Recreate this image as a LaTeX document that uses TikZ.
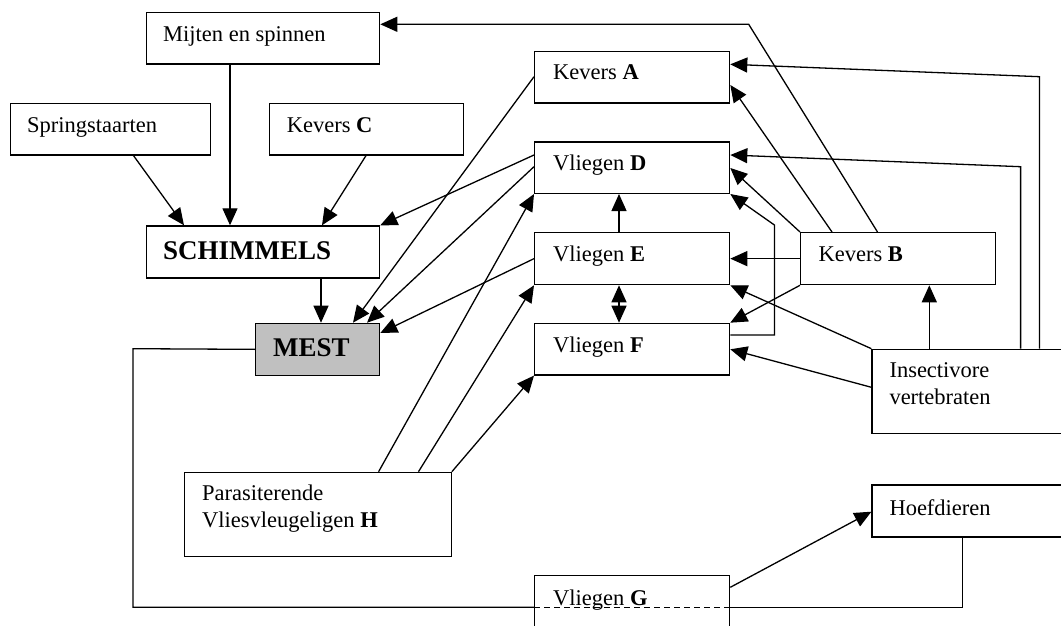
\documentclass[tikz,border=0pt]{standalone}
\usepackage{fontspec}
\setmainfont{Liberation Serif}
\usetikzlibrary{arrows.meta}
\begin{document}
\begin{tikzpicture}[x=1pt,y=-1pt,
  box/.style={draw,line width=1.3pt,rectangle,anchor=north west,inner sep=0pt,fill=white},
  txt/.style={anchor=base west,inner sep=0pt,font=\fontsize{22.5}{27}\selectfont},
  big/.style={anchor=base west,inner sep=0pt,font=\fontsize{27}{32}\selectfont\bfseries},
  con/.style={line width=1.3pt},
  arr/.style={con,-{Triangle[length=17pt,width=15pt]}},
  dbl/.style={con,{Triangle[length=17pt,width=15pt]}-{Triangle[length=17pt,width=15pt]}}]
\useasboundingbox (0,0) rectangle (1061,626);
\fill[white] (0,0) rectangle (1061,626);
\clip (0,0) rectangle (1061,626);
% boxes
\node[box,minimum width=233pt,minimum height=51.6pt] (mijten) at (146,11.7) {};
\node[box,minimum width=200.5pt,minimum height=51.6pt] (spring) at (9.5,102.7) {};
\node[box,minimum width=194pt,minimum height=51.6pt] (kevc) at (269,102.7) {};
\node[box,minimum width=233pt,minimum height=52pt] (schim) at (146,225.3) {};
\node[box,minimum width=124pt,minimum height=52pt,fill={rgb,255:red,192;green,192;blue,192}] (mest) at (255,322.7) {};
\node[box,minimum width=266.6pt,minimum height=84.3pt] (para) at (184,471.7) {};
\node[box,minimum width=195pt,minimum height=51.6pt] (keva) at (534,50.7) {};
\node[box,minimum width=195pt,minimum height=51.4pt] (vd) at (534,141.3) {};
\node[box,minimum width=195pt,minimum height=52pt] (ve) at (534,232) {};
\node[box,minimum width=195pt,minimum height=51.6pt] (vf) at (534,322.7) {};
\node[box,minimum width=195pt,minimum height=52pt] (kevb) at (800,232) {};
\node[box,minimum width=220pt,minimum height=84pt] (insect) at (871.4,348.7) {};
\node[box,minimum width=220pt,minimum height=52pt] (hoef) at (871.4,484.3) {};
\node[box,minimum width=195pt,minimum height=80pt] (vg) at (534,575) {};
% texts
\node[txt] (t-mijten) at (163,41.7) {Mijten en spinnen};
\node[txt] (t-spring) at (27,132.7) {Springstaarten};
\node[txt] (t-kevc) at (286.7,132.7) {Kevers \textbf{C}};
\node[big] (t-schim) at (163,259.3) {SCHIMMELS};
\node[big] (t-mest) at (273,356.7) {MEST};
\node[txt] (t-para1) at (202,500) {Parasiterende};
\node[txt] (t-para2) at (202,527.7) {Vliesvleugeligen \textbf{H}};
\node[txt] (t-keva) at (553,80) {Kevers \textbf{A}};
\node[txt] (t-vd) at (553,170.8) {Vliegen \textbf{D}};
\node[txt] (t-ve) at (553,261.6) {Vliegen \textbf{E}};
\node[txt] (t-vf) at (553,352.3) {Vliegen \textbf{F}};
\node[txt] (t-kevb) at (818.4,261.7) {Kevers \textbf{B}};
\node[txt] (t-ins1) at (889.3,377.7) {Insectivore};
\node[txt] (t-ins2) at (889.3,404.3) {vertebraten};
\node[txt] (t-hoef) at (889.3,515) {Hoefdieren};
\node[txt] (t-vg) at (553,605.7) {Vliegen \textbf{G}};
% connectors to SCHIMMELS and MEST
\draw[arr] (230,0 |- mijten.south) -- (230,0 |- schim.north);
\draw[arr] (133.5,0 |- spring.south) -- (184,0 |- schim.north);
\draw[arr] (366,0 |- kevc.south) -- (322,0 |- schim.north);
\draw[arr] (321,0 |- schim.south) -- (321,0 |- mest.north);
\draw[arr] (vd.west |- 0,155) -- (schim.north east);
\draw[arr] (keva.west |- 0,76.7) -- (353,0 |- mest.north);
\draw[arr] (vd.west |- 0,166.7) -- (367,0 |- mest.north);
\draw[arr] (ve.west) -- (mest.east |- 0,333);
% parasites
\draw[arr] (378.6,0 |- para.north) -- (vd.south west);
\draw[arr] (418.5,0 |- para.north) -- (ve.south west);
\draw[arr] (para.north east) -- (vf.south west);
% flies
\draw[arr] (619,0 |- ve.north) -- (619,0 |- vd.south);
\draw[dbl] (619,0 |- ve.south) -- (619,0 |- vf.north);
\coordinate (c-mij) at (748.7,24.3);
\draw[arr] (877.5,0 |- kevb.north) -- (c-mij) -- (mijten.east |- c-mij);
\draw[arr] (832,0 |- kevb.north) -- (keva.east |- 0,85);
\coordinate (c-ka) at (1039.5,76.7);
\draw[arr] (c-ka |- insect.north) -- (c-ka) -- (keva.east |- 0,64.3);
\coordinate (c-vd) at (1020.6,166.7);
\draw[arr] (c-vd |- insect.north) -- (c-vd) -- (vd.east |- 0,155);
\draw[arr] (kevb.north west) -- (vd.east |- 0,168);
\coordinate (c-f1) at (774.4,335);
\coordinate (c-f2) at (774.4,225);
\draw[arr] (vf.east |- c-f1) -- (c-f1) -- (c-f2) -- (vd.south east);
\draw[arr] (kevb.west) -- (ve.east);
\draw[arr] (insect.north west) -- (ve.south east);
\draw[arr] (kevb.south west) -- (vf.north east);
\draw[arr] (insect.west |- 0,387.3) -- (vf.east |- 0,349.3);
\draw[arr] (929.3,0 |- insect.north) -- (929.3,0 |- kevb.south);
\draw[arr] (vg.east |- 0,587.3) -- (hoef.west |- 0,511.7);
% loop MEST - Vliegen G - Hoefdieren
\coordinate (c-l1) at (133,348.7);
\coordinate (c-l2) at (133,607.3);
\coordinate (c-l3) at (962.3,607.3);
\draw[con] (mest.west) -- (c-l1) -- (c-l2) -- (vg.west |- c-l2);
\draw[con,dash pattern=on 6pt off 4pt] (vg.west |- c-l2) -- (vg.east |- c-l2);
\draw[con] (vg.east |- c-l2) -- (c-l3) -- (c-l3 |- hoef.south);
\end{tikzpicture}
\end{document}
